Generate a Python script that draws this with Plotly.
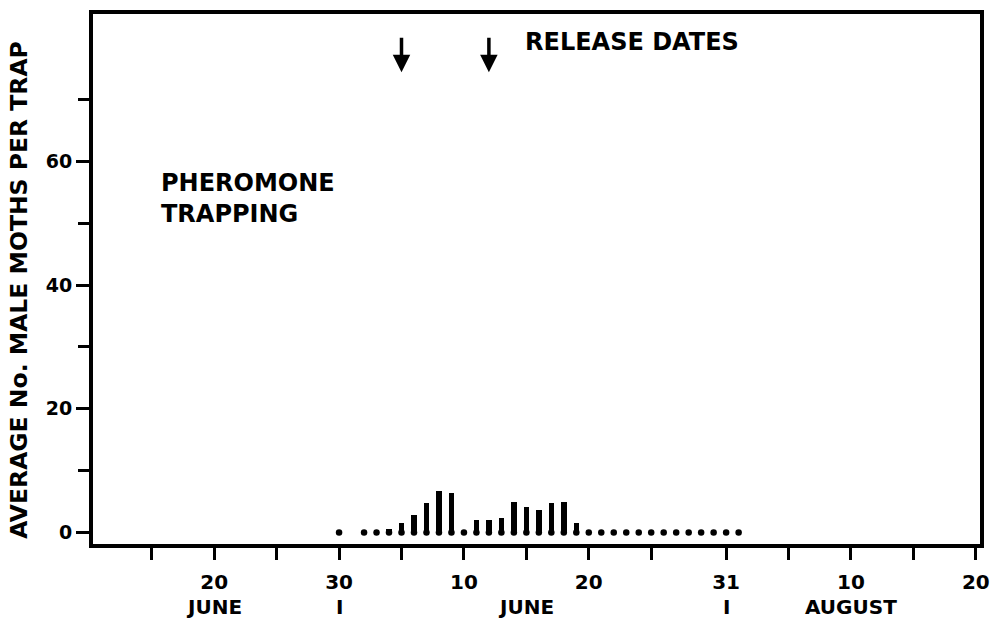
import plotly.graph_objects as go
import pandas as pd

# ---- data ----
trap_dates = ["1980-06-30", "1980-07-02", "1980-07-03", "1980-07-04", "1980-07-05",
              "1980-07-06", "1980-07-07", "1980-07-08", "1980-07-09", "1980-07-10",
              "1980-07-11", "1980-07-12", "1980-07-13", "1980-07-14", "1980-07-15",
              "1980-07-16", "1980-07-17", "1980-07-18", "1980-07-19", "1980-07-20",
              "1980-07-21", "1980-07-22", "1980-07-23", "1980-07-24", "1980-07-25",
              "1980-07-26", "1980-07-27", "1980-07-28", "1980-07-29", "1980-07-30",
              "1980-07-31", "1980-08-01"]
moths_per_trap = [0, 0, 0, 0.5, 1.6,
                  2.9, 4.8, 6.7, 6.4, 0,
                  2.1, 2.0, 2.4, 5.0, 4.2,
                  3.7, 4.8, 5.0, 1.6, 0,
                  0, 0, 0, 0, 0,
                  0, 0, 0, 0, 0,
                  0, 0]
release_dates = ["1980-07-05", "1980-07-12"]

x_tick_dates = ["1980-06-15", "1980-06-20", "1980-06-25", "1980-06-30", "1980-07-05",
                "1980-07-10", "1980-07-15", "1980-07-20", "1980-07-25", "1980-07-31",
                "1980-08-05", "1980-08-10", "1980-08-15", "1980-08-20"]
x_tick_text = ["", "20", "", "30", "", "10", "", "20", "", "31", "", "10", "", "20"]
month_label_dates = ["1980-06-20", "1980-06-30", "1980-07-15", "1980-07-31", "1980-08-10"]
month_label_text = ["JUNE", "I", "JUNE", "I", "AUGUST"]

y_major = [0, 20, 40, 60]
y_minor = [10, 30, 50, 70]

FONT = "DejaVu Sans"

fig = go.Figure()
fig.add_trace(go.Bar(
    x=pd.to_datetime(trap_dates), y=moths_per_trap,
    width=0.44 * 86400000,
    marker=dict(color="black", line=dict(width=0)),
    showlegend=False, hoverinfo="skip"))
fig.add_trace(go.Scatter(
    x=pd.to_datetime(trap_dates), y=[0] * len(trap_dates),
    mode="markers", marker=dict(color="black", size=6.5),
    showlegend=False, hoverinfo="skip"))

annotations = []
for d in release_dates:
    annotations.append(dict(
        x=d, y=74.4, xref="x", yref="y", text="", showarrow=True,
        ax=0, ay=-36, arrowhead=2, arrowsize=1.0, arrowwidth=3.5, arrowcolor="black"))
annotations.append(dict(
    x=0.485, y=0.947, xref="paper", yref="paper", text="RELEASE DATES",
    showarrow=False, xanchor="left", yanchor="middle",
    font=dict(family=FONT, size=24, weight="bold", color="black")))
annotations.append(dict(
    x=0.0749, y=0.652, xref="paper", yref="paper", text="PHEROMONE<br>TRAPPING",
    showarrow=False, xanchor="left", yanchor="middle", align="left",
    font=dict(family=FONT, size=24, weight="bold", color="black")))
for d, t in zip(month_label_dates, month_label_text):
    annotations.append(dict(
        x=d, y=-0.118, xref="x", yref="paper", text=t, showarrow=False,
        xanchor="center", yanchor="middle",
        font=dict(family=FONT, size=20, weight="bold", color="black")))
annotations.append(dict(
    x=-0.0838, y=0.479, xref="paper", yref="paper",
    text="AVERAGE No. MALE MOTHS PER TRAP", textangle=-90, showarrow=False,
    xanchor="center", yanchor="middle",
    font=dict(family=FONT, size=23.5, weight="bold", color="black")))

fig.update_layout(
    width=998, height=621,
    margin=dict(l=93, r=8, t=14, b=77),
    paper_bgcolor="white", plot_bgcolor="white",
    bargap=0,
    annotations=annotations,
    font=dict(family=FONT, color="black"),
    xaxis=dict(
        type="date", range=["1980-06-10 07:00", "1980-08-20 08:00"],
        tickvals=pd.to_datetime(x_tick_dates), ticktext=x_tick_text,
        ticks="outside", ticklen=12, tickwidth=3, tickcolor="black",
        showline=True, linewidth=4, linecolor="black", mirror=True,
        showgrid=False, zeroline=False, ticklabelstandoff=5,
        tickfont=dict(family=FONT, size=20, weight="bold", color="black")),
    yaxis=dict(
        range=[-1.86, 83.8], tickvals=y_major, ticktext=[str(v) for v in y_major],
        ticks="outside", ticklen=13, tickwidth=3, tickcolor="black",
        minor=dict(tickvals=y_minor, ticks="outside", ticklen=11, tickwidth=3, tickcolor="black"),
        showline=True, linewidth=4, linecolor="black", mirror=True,
        showgrid=False, zeroline=False,
        tickfont=dict(family=FONT, size=19, weight="bold", color="black")),
)

fig.write_html("out.html")
